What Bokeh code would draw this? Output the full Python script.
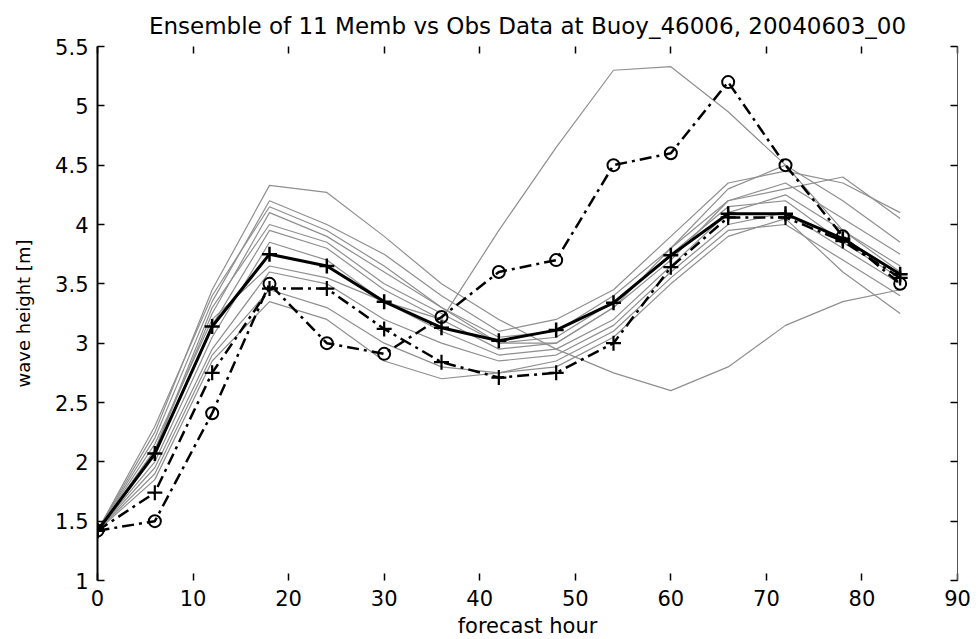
from bokeh.plotting import figure
from bokeh.models import (LinearAxis, FixedTicker, CustomJSTickFormatter, Range1d,
                          CustomLabelingPolicy)
from bokeh.embed import file_html
from bokeh.resources import INLINE

# ---------------- data ----------------
hours = [0, 6, 12, 18, 24, 30, 36, 42, 48, 54, 60, 66, 72, 78, 84]

obs_data = [1.42, 1.50, 2.41, 3.50, 3.00, 2.91, 3.22, 3.60, 3.70, 4.50, 4.60, 5.20, 4.50, 3.90, 3.50]
ens_mean = [1.42, 2.07, 3.14, 3.75, 3.65, 3.35, 3.13, 3.02, 3.11, 3.34, 3.74, 4.09, 4.09, 3.88, 3.58]
control = [1.42, 1.74, 2.75, 3.46, 3.46, 3.12, 2.84, 2.71, 2.75, 3.00, 3.64, 4.06, 4.06, 3.86, 3.55]

member_01 = [1.42, 2.15, 3.20, 3.65, 3.55, 3.35, 3.20, 3.95, 4.65, 5.30, 5.33, 4.95, 4.50, 3.95, 3.60]
member_02 = [1.42, 2.25, 3.45, 4.33, 4.27, 3.90, 3.50, 3.20, 2.95, 2.75, 2.60, 2.80, 3.15, 3.35, 3.45]
member_03 = [1.42, 2.20, 3.35, 4.20, 4.00, 3.75, 3.40, 3.10, 3.20, 3.45, 3.90, 4.35, 4.45, 4.35, 4.10]
member_04 = [1.42, 2.10, 3.25, 4.10, 3.90, 3.60, 3.30, 3.05, 3.10, 3.40, 3.80, 4.30, 4.50, 4.20, 3.85]
member_05 = [1.42, 2.05, 3.15, 3.95, 3.80, 3.45, 3.20, 2.95, 3.00, 3.30, 3.70, 4.20, 4.35, 4.05, 3.75]
member_06 = [1.42, 2.00, 3.05, 3.85, 3.70, 3.35, 3.10, 2.90, 2.95, 3.20, 3.65, 4.10, 4.25, 3.95, 3.65]
member_07 = [1.42, 1.95, 2.95, 3.60, 3.50, 3.20, 3.00, 2.85, 2.90, 3.15, 3.60, 4.00, 4.10, 3.80, 3.50]
member_08 = [1.42, 1.90, 2.90, 3.45, 3.30, 3.00, 2.80, 2.75, 2.85, 3.10, 3.55, 3.95, 4.00, 3.70, 3.40]
member_09 = [1.42, 2.10, 3.30, 4.00, 3.85, 3.50, 3.25, 3.00, 3.05, 3.35, 3.75, 4.15, 4.20, 3.85, 3.55]
member_10 = [1.42, 1.85, 2.85, 3.35, 3.20, 2.85, 2.70, 2.75, 2.80, 3.05, 3.50, 3.90, 4.05, 3.60, 3.25]
member_11 = [1.42, 2.30, 3.40, 4.15, 3.95, 3.65, 3.30, 3.00, 3.00, 3.30, 3.80, 4.20, 4.30, 4.40, 4.05]

members = [member_01, member_02, member_03, member_04, member_05, member_06,
           member_07, member_08, member_09, member_10, member_11]

x_ticks = [0, 10, 20, 30, 40, 50, 60, 70, 80, 90]
y_ticks = [1, 1.5, 2, 2.5, 3, 3.5, 4, 4.5, 5, 5.5]

title_text = "Ensemble of 11 Memb vs Obs Data at Buoy_46006, 20040603_00"
x_label = "forecast hour"
y_label = "wave height [m]"

# ---------------- figure ----------------
FONT = "DejaVu Sans"

p = figure(frame_width=860, frame_height=534,
           x_range=Range1d(0, 90), y_range=Range1d(1, 5.5),
           output_backend="svg", toolbar_location=None,
           min_border_left=97, min_border_right=21,
           min_border_top=46, min_border_bottom=50,
           title=title_text)

p.background_fill_color = "white"
p.border_fill_color = "white"
p.outline_line_color = None
p.xgrid.visible = False
p.ygrid.visible = False

p.title.text_font = FONT
p.title.text_font_size = "23px"
p.title.text_font_style = "normal"
p.title.align = "center"
p.title.text_color = "black"
p.title.standoff = 16

# members
for m in members:
    p.line(hours, m, line_color="#8f8f8f", line_width=1.2)

# control (dash-dot with +)
p.line(hours, control, line_color="black", line_width=2.5, line_dash="12 5 3 5")
p.scatter(hours, control, marker="cross", size=15, line_color="black", line_width=2.2)

# ensemble mean (thick solid with +)
p.line(hours, ens_mean, line_color="black", line_width=3)
p.scatter(hours, ens_mean, marker="cross", size=15, line_color="black", line_width=2.5)

# observations (dash-dot with o)
p.line(hours, obs_data, line_color="black", line_width=2.5, line_dash="12 5 3 5")
p.scatter(hours, obs_data, marker="circle", size=12, line_color="black",
          fill_color=None, line_width=2)

fmt = CustomJSTickFormatter(code="return tick.toString();")
no_labels = CustomLabelingPolicy(code="""
    const all = [...indices];
    for (const i of all) indices.unset(i);
    return indices;
""")

def style_axis(ax, label_size="21px"):
    ax.major_tick_in = 7
    ax.major_tick_out = 0
    ax.minor_tick_line_color = None
    ax.major_tick_line_color = "black"
    ax.major_tick_line_width = 1.5
    ax.major_label_text_font = FONT
    ax.major_label_text_font_size = label_size
    ax.major_label_text_color = "black"
    ax.axis_label_text_font = FONT
    ax.axis_label_text_font_style = "normal"
    ax.axis_label_text_color = "black"

xa = p.xaxis[0]
xa.ticker = FixedTicker(ticks=x_ticks)
xa.formatter = fmt
style_axis(xa)
xa.axis_line_color = None
xa.axis_label = x_label
xa.axis_label_text_font_size = "21px"
xa.major_label_standoff = 9
xa.axis_label_standoff = 5

ya = p.yaxis[0]
ya.ticker = FixedTicker(ticks=y_ticks)
ya.formatter = fmt
style_axis(ya)
ya.axis_line_color = "black"
ya.axis_line_width = 2
ya.axis_label = y_label
ya.axis_label_text_font_size = "18px"
ya.major_label_standoff = 9
ya.axis_label_standoff = 18

top_ax = LinearAxis(ticker=FixedTicker(ticks=x_ticks), formatter=fmt,
                    major_label_policy=no_labels)
style_axis(top_ax, label_size="0px")
top_ax.axis_line_color = None
top_ax.major_label_standoff = 0
p.add_layout(top_ax, "above")

right_ax = LinearAxis(ticker=FixedTicker(ticks=y_ticks), formatter=fmt,
                      major_label_policy=no_labels)
style_axis(right_ax, label_size="0px")
right_ax.axis_line_color = "#555555"
right_ax.axis_line_width = 1
right_ax.major_label_standoff = 0
p.add_layout(right_ax, "right")

open("out.html", "w").write(file_html(p, INLINE))
